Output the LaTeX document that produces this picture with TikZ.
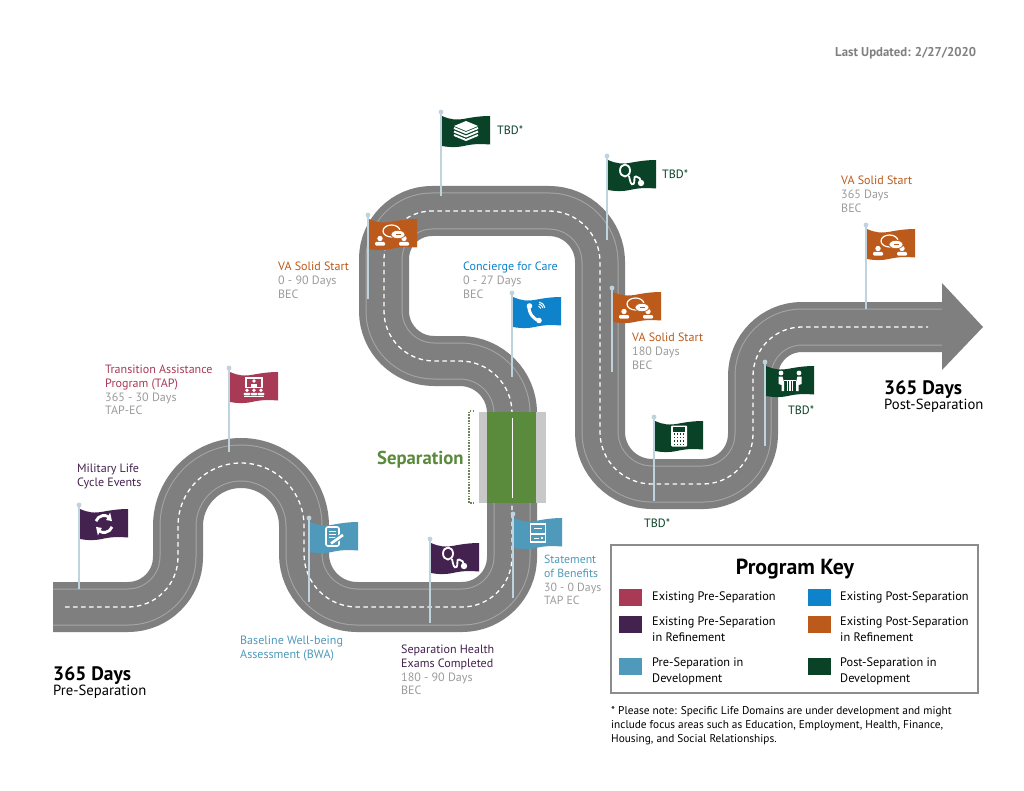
\documentclass[tikz,border=0pt]{standalone}
\usepackage{fontspec}
\setmainfont{PT Sans}
\usetikzlibrary{arrows, positioning}

\definecolor{roadgray}{HTML}{7F7F7F}
\definecolor{lanegray}{HTML}{A6A6A6}
\definecolor{polecolor}{HTML}{BFD3DE}
\definecolor{daysgray}{HTML}{9C9C9C}
\definecolor{keygray}{HTML}{8C8C8C}
\definecolor{sidegray}{HTML}{C8C8C8}
\definecolor{sepgreen}{HTML}{5A8A3C}
\definecolor{prepink}{HTML}{A93A56}
\definecolor{prepurple}{HTML}{44224F}
\definecolor{preteal}{HTML}{4F9ABB}
\definecolor{postblue}{HTML}{0E83CC}
\definecolor{postorange}{HTML}{BC5A1B}
\definecolor{postgreen}{HTML}{0A4228}

\newcommand{\roadline}[2]{(#1,607) -- (128,607) arc (90:0:50) -- (178,526) arc (180:360:63)
	-- (304,554) arc (180:90:53) -- (462,607) arc (90:0:50) -- (512,413) arc (0:-90:52)
	-- (434,361) arc (90:180:50) -- (384,259) arc (180:270:48) -- (549,211) arc (270:360:51)
	-- (600,432) arc (180:90:52) -- (703,484) arc (90:0:50) -- (753,376) arc (180:270:49)
	-- (#2,327)}

\newcommand{\roadflag}[4]{%
	\colorlet{flagcol}{#3}
	\draw[pole] (#1,#2) -- (#1,#2+84);
	\fill[polecolor] (#1,#2) circle (2.4);
	\fill[flagcol, shift={(#1+1,#2+4)}] (0,0) .. controls (8,3.5) and (14,4.5) .. (24,2.5)
		.. controls (32,1) and (40,0) .. (48,0) -- (48,28.5) .. controls (40,28) and (34,27.5) .. (24,29.5)
		.. controls (16,31.5) and (8,31.5) .. (0,30) -- cycle;
	\pic at (#1+25,#2+19) {#4};
}

\tikzset{
	pole/.style={draw=polecolor, line width=1.4pt},
	lab/.style={anchor=north west, align=left, inner sep=0pt, font=\fontsize{12.05}{13.7}\selectfont},
	keytext/.style={anchor=north west, align=left, inner sep=0pt, font=\fontsize{12.3}{16}\selectfont},
	swatch/.style={minimum width=23pt, minimum height=17pt, inner sep=0pt},
	person/.pic={
		\fill[white] (0,-3) circle (2.7);
		\fill[white, rounded corners=1.2] (-5,4.2) -- (-5,0.5) -- (5,0.5) -- (5,4.2) -- cycle;
	},
	chaticon/.pic={
		\pic at (-13,7.5) {person};
		\pic at (11,7.5) {person};
		\draw[white, line width=1.2pt] (-1.5,-3) ellipse [x radius=8.5, y radius=6];
		\fill[white, draw=flagcol, line width=0.7pt] (5,0.5) ellipse [x radius=7, y radius=4.2];
		\draw[flagcol, line width=0.8pt] (2.5,0.5) -- (7.5,0.5);
	},
	stethicon/.pic={
		\draw[white, line width=1.8pt] (-7,-4.5) ellipse [x radius=5, y radius=6];
		\draw[white, line width=1.8pt] (-3,1) .. controls (-2,6) and (-1,11) .. (1.5,9)
			.. controls (3.5,7) and (1,1) .. (4,1.5) .. controls (7,2) and (9,4) .. (9,7);
		\fill[white] (9,8) circle (3.2);
	},
	booksicon/.pic={
		\fill[white] (-12,-5) -- (0,-10) -- (12,-5) -- (0,0) -- cycle;
		\foreach \yy in {-2,1.5,5}
			\draw[white, line width=1.9pt] (-12,\yy-1) -- (0,\yy+4) -- (12,\yy-1);
	},
	phoneicon/.pic={
		\draw[white, line width=3pt] (-8,-7) .. controls (-9,1) and (-3,8) .. (3,9);
		\fill[white] (-7.5,-6) circle (2.8);
		\fill[white] (2,8.5) circle (2.8);
		\foreach \rr in {3,5,7}
			\draw[white, line width=1pt] (1,-3) ++(-80:\rr) arc (-80:-10:\rr);
	},
	calcicon/.pic={
		\fill[white, rounded corners=1] (-8,-10.5) rectangle (8,10.5);
		\fill[flagcol] (-6,-9) rectangle (6,-4.5);
		\foreach \px in {-4.5,-1.5,1.5,4.5}
			\foreach \py in {-2,1.5,5,8.2}
				\fill[flagcol] (\px-0.8,\py-0.7) rectangle (\px+0.8,\py+0.7);
	},
	meeticon/.pic={
		\fill[white] (-9,-8) circle (2.4);
		\fill[white] (9,-8) circle (2.4);
		\fill[white] (-11.5,-4.5) -- (-7.5,-4.5) -- (-6,1) -- (-6,10) -- (-8.5,10) -- (-8.5,4) -- (-11.5,3) -- cycle;
		\fill[white] (11.5,-4.5) -- (7.5,-4.5) -- (6,1) -- (6,10) -- (8.5,10) -- (8.5,4) -- (11.5,3) -- cycle;
		\draw[white, line width=1.6pt] (-6,-0.5) -- (6,-0.5);
		\foreach \px in {-2.5,0,2.5}
			\draw[white, line width=1.1pt] (\px,-0.5) -- (\px,10);
	},
	refreshicon/.pic={
		\draw[white, line width=2.8pt] (200:8.5) arc (200:300:8.5);
		\fill[white] (298:4.5) -- (298:13) -- (340:8.5) -- cycle;
		\draw[white, line width=2.8pt] (20:8.5) arc (20:120:8.5);
		\fill[white] (118:4.5) -- (118:13) -- (160:8.5) -- cycle;
	},
	docicon/.pic={
		\draw[white, line width=1.6pt, rounded corners=2] (-8,-10) rectangle (5,9);
		\foreach \yy in {-6,-3,0}
			\draw[white, line width=1pt] (-5,\yy) -- (2,\yy);
		\draw[preteal, line width=5pt] (-2,6) -- (9,-2);
		\draw[white, line width=2.6pt] (-3,6.5) -- (9,-2);
	},
	boardicon/.pic={
		\draw[white, line width=1.2pt] (-8,-9) rectangle (8,0.5);
		\fill[white] (0,-6) circle (1.9);
		\fill[white] (-3,-0.5) rectangle (3,-3.4);
		\pic[scale=0.7] at (-7,5.4) {person};
		\pic[scale=0.7] at (0,5.4) {person};
		\pic[scale=0.7] at (7,5.4) {person};
		\fill[white] (-10,8.6) rectangle (10,10);
	},
	formicon/.pic={
		\draw[white, line width=1.5pt] (-7.5,-9) rectangle (7.5,9);
		\draw[white, line width=1.2pt] (-7.5,1) -- (7.5,1);
		\draw[white, line width=0.8pt] (-4,-5) -- (4,-5);
		\draw[white, line width=0.8pt] (-4,5) -- (0.5,5);
		\fill[white] (2.5,3.5) rectangle (5,6);
	},
}

\begin{document}
\begin{tikzpicture}[x=1pt, y=-1pt]
	\fill[white] (0,0) rectangle (1024,791);
	\path[use as bounding box] (0,0) rectangle (1024,791);

	% road
	\foreach \ww/\cc in {50/roadgray, 37/lanegray, 35/roadgray}
		\draw[line width=\ww pt, draw=\cc] \roadline{53}{942};
	\draw[white, line width=1.3pt, dash pattern=on 4.5pt off 3.5pt] \roadline{65}{928};
	\fill[roadgray] (942,283) -- (983,327) -- (942,370) -- cycle;

	% separation
	\fill[sidegray] (479,412) rectangle (546,503);
	\fill[sepgreen] (487,412) rectangle (536,503);
	\draw[white, line width=1pt] (512,418) -- (512,498);
	\draw[sepgreen!55!gray, line width=1.1pt, dash pattern=on 1.5pt off 1.3pt] (474,411) -- (469,411) -- (469,503) -- (474,503);
	\node at (377,451) (sep) [lab, font=\fontsize{18.7}{20}\selectfont\bfseries, text=sepgreen] {Separation};

	% flags
	\roadflag{79}{505}{prepurple}{refreshicon}
	\roadflag{229}{368}{prepink}{boardicon}
	\roadflag{309}{518}{preteal}{docicon}
	\roadflag{430}{539}{prepurple}{stethicon}
	\roadflag{513}{514}{preteal}{formicon}
	\roadflag{512}{293}{postblue}{phoneicon}
	\roadflag{368}{215}{postorange}{chaticon}
	\roadflag{441}{112}{postgreen}{booksicon}
	\roadflag{607}{156}{postgreen}{stethicon}
	\roadflag{612}{288}{postorange}{chaticon}
	\roadflag{654}{417}{postgreen}{calcicon}
	\roadflag{765}{362}{postgreen}{meeticon}
	\roadflag{866}{225}{postorange}{chaticon}

	% labels
	\node at (835,47) (updated) [lab, font=\fontsize{12.8}{14}\selectfont\bfseries, text=gray] {Last Updated: 2/27/2020};
	\node at (77,464) (military) [lab] {\textcolor{prepurple}{Military Life}\\\textcolor{prepurple}{Cycle Events}};
	\node at (105,365) (tap) [lab] {\textcolor{prepink}{Transition Assistance}\\\textcolor{prepink}{Program (TAP)}\\\textcolor{daysgray}{365 - 30 Days}\\\textcolor{daysgray}{TAP-EC}};
	\node at (240,636) (bwa) [lab] {\textcolor{preteal}{Baseline Well-being}\\\textcolor{preteal}{Assessment (BWA)}};
	\node at (401,645) (exams) [lab] {\textcolor{prepurple}{Separation Health}\\\textcolor{prepurple}{Exams Completed}\\\textcolor{daysgray}{180 - 90 Days}\\\textcolor{daysgray}{BEC}};
	\node at (544,555) (benefits) [lab, font=\fontsize{11.8}{13.7}\selectfont] {\textcolor{preteal}{Statement}\\\textcolor{preteal}{of Benefits}\\\textcolor{daysgray}{30 - 0 Days}\\\textcolor{daysgray}{TAP EC}};
	\node at (278,262) (startA) [lab] {\textcolor{postorange}{VA Solid Start}\\\textcolor{daysgray}{0 - 90 Days}\\\textcolor{daysgray}{BEC}};
	\node at (463,262) (concierge) [lab] {\textcolor{postblue}{Concierge for Care}\\\textcolor{daysgray}{0 - 27 Days}\\\textcolor{daysgray}{BEC}};
	\node at (632,333) (startB) [lab] {\textcolor{postorange}{VA Solid Start}\\\textcolor{daysgray}{180 Days}\\\textcolor{daysgray}{BEC}};
	\node at (841,176) (startC) [lab] {\textcolor{postorange}{VA Solid Start}\\\textcolor{daysgray}{365 Days}\\\textcolor{daysgray}{BEC}};
	\node at (497,126) (tbdA) [lab, text=postgreen] {TBD*};
	\node at (662,170) (tbdB) [lab, text=postgreen] {TBD*};
	\node at (788,406) (tbdC) [lab, text=postgreen] {TBD*};
	\node at (644,519) (tbdD) [lab, text=postgreen] {TBD*};

	\node at (53,666) (preDays) [lab, font=\fontsize{19.5}{22}\selectfont\bfseries] {365 Days};
	\node at (53,685) (preSep) [lab, font=\fontsize{14.7}{16}\selectfont] {Pre-Separation};
	\node at (884,380) (postDays) [lab, font=\fontsize{19.5}{22}\selectfont\bfseries] {365 Days};
	\node at (884,399) (postSep) [lab, font=\fontsize{14.7}{16}\selectfont] {Post-Separation};

	% program key
	\node at (794.5,619) (keybox) [draw=keygray, line width=1.5pt, minimum width=367pt, minimum height=148pt] {};
	\node at (795,569) (keytitle) [font=\fontsize{21.8}{24}\selectfont\bfseries, inner sep=0pt] {Program Key};
	\node at (630.5,597.5) (swA) [swatch, fill=prepink] {};
	\node at (630.5,624.5) (swB) [swatch, fill=prepurple] {};
	\node at (630.5,666) (swC) [swatch, fill=preteal] {};
	\node at (819.5,597.5) (swD) [swatch, fill=postblue] {};
	\node at (819.5,624.5) (swE) [swatch, fill=postorange] {};
	\node at (819.5,666) (swF) [swatch, fill=postgreen] {};
	\node at (652,592) (keyA) [keytext] {Existing Pre-Separation};
	\node at (652,617) (keyB) [keytext] {Existing Pre-Separation\\in Refinement};
	\node at (652,658) (keyC) [keytext] {Pre-Separation in\\Development};
	\node at (840,592) (keyD) [keytext] {Existing Post-Separation};
	\node at (840,617) (keyE) [keytext] {Existing Post-Separation\\in Refinement};
	\node at (840,658) (keyF) [keytext] {Post-Separation in\\Development};

	\node at (611,706) (note) [lab, font=\fontsize{11.3}{14}\selectfont] {* Please note: Specific Life Domains are under development and might\\include focus areas such as Education, Employment, Health, Finance,\\Housing, and Social Relationships.};
\end{tikzpicture}
\end{document}
